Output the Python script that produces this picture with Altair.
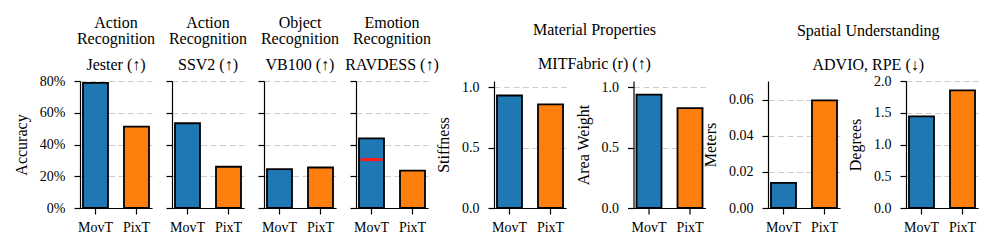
import altair as alt
import pandas as pd

FONT = "Liberation Serif"

models = ["MovT", "PixT"]
colors = ["#1f77b4", "#ff7f0e"]

# Accuracy panels
acc_tasks = [["Action", "Recognition"], ["Action", "Recognition"],
             ["Object", "Recognition"], ["Emotion", "Recognition"]]
acc_datasets = ["Jester (↑)", "SSV2 (↑)", "VB100 (↑)", "RAVDESS (↑)"]
acc_movt = [0.788, 0.534, 0.245, 0.439]
acc_pixt = [0.513, 0.260, 0.255, 0.236]
acc_ticks = [0, 0.2, 0.4, 0.6, 0.8]
acc_domain = [0, 0.8]

# red reference line drawn on the RAVDESS MovT bar
ref_model = ["MovT"]
ref_value = [0.305]

# Material properties
material_group = "Material Properties"
material_dataset = "MITFabric (r) (↑)"
material_labels = ["Stiffness", "Area Weight"]
material_movt = [0.930, 0.937]
material_pixt = [0.857, 0.825]
material_ticks = [0, 0.5, 1.0]
material_domain = [0, 1.05]

# Spatial understanding
spatial_group = "Spatial Understanding"
spatial_dataset = "ADVIO, RPE (↓)"
spatial_labels = ["Meters", "Degrees"]
spatial_movt = [0.0139, 1.444]
spatial_pixt = [0.0598, 1.852]
spatial_ticks = [[0, 0.02, 0.04, 0.06], [0, 0.5, 1.0, 1.5, 2.0]]
spatial_domain = [[0, 0.0705], [0, 2.0]]
spatial_fmt = [".2f", ".1f"]

W, H = 72, 127


def x_enc():
    return alt.X("model:N", sort=models,
                 scale=alt.Scale(paddingInner=0.39, paddingOuter=0.073),
                 axis=alt.Axis(title=None, labelAngle=0, grid=False, tickSize=6,
                               labelPadding=6))


def panel(vals, domain, ticks, fmt, ytitle=None, hide_labels=False, title=None, ref=False):
    df = pd.DataFrame({"model": models, "value": vals})
    axis_kw = dict(values=ticks, format=fmt, grid=True, gridDash=[6, 3.5],
                   gridColor="#cccccc", gridWidth=1.1, tickSize=6, labelPadding=9,
                   titlePadding=10, title=ytitle)
    if hide_labels:
        axis_kw["labelOpacity"] = 0
    y = alt.Y("value:Q", scale=alt.Scale(domain=domain, nice=False, zero=True),
              axis=alt.Axis(**axis_kw))
    bars = alt.Chart(df).mark_bar(stroke="black", strokeWidth=1.8).encode(
        x=x_enc(), y=y,
        color=alt.Color("model:N", scale=alt.Scale(domain=models, range=colors), legend=None),
    )
    ch = bars
    if ref:
        rdf = pd.DataFrame({"model": ref_model, "value": ref_value})
        line = alt.Chart(rdf).mark_tick(orient="horizontal", color="#ff1a1a", thickness=3,
                                        size=22, opacity=1).encode(x=x_enc(), y=y)
        ch = alt.layer(bars, line)
    props = dict(width=W, height=H)
    if title is not None:
        props["title"] = title
    return ch.properties(**props)


acc_panels = []
for i in range(4):
    t = alt.TitleParams(text=acc_tasks[i], subtitle=acc_datasets[i], frame="group",
                        anchor="middle", offset=1.5, subtitlePadding=10, lineHeight=16)
    acc_panels.append(panel([acc_movt[i], acc_pixt[i]], acc_domain, acc_ticks, ".0%",
                            ytitle="Accuracy" if i == 0 else None,
                            hide_labels=(i > 0), title=t, ref=(i == 3)))

g1 = alt.hconcat(*acc_panels, spacing=20, bounds="flush")

mat_panels = [panel([material_movt[i], material_pixt[i]], material_domain, material_ticks,
                    ".1f", ytitle=material_labels[i]) for i in range(2)]
g2 = alt.hconcat(*mat_panels, spacing=67.5, bounds="flush",
                 title=alt.TitleParams(text=material_group, subtitle=material_dataset,
                                       anchor="middle", dx=24, offset=8, subtitlePadding=18))

sp_panels = [panel([spatial_movt[i], spatial_pixt[i]], spatial_domain[i], spatial_ticks[i],
                   spatial_fmt[i], ytitle=spatial_labels[i]) for i in range(2)]
g3 = alt.hconcat(*sp_panels, spacing=66, bounds="flush",
                 title=alt.TitleParams(text=spatial_group, subtitle=spatial_dataset,
                                       anchor="middle", dx=28, offset=1.5, subtitlePadding=18))

chart = alt.hconcat(g1, g2, g3, spacing=-4).properties(
    padding={"left": 5, "top": 6, "right": 5, "bottom": 5}
).configure_view(stroke=None).configure_axis(
    labelFont=FONT, titleFont=FONT, labelFontSize=14, titleFontSize=16,
    titleFontWeight="normal", labelColor="black", titleColor="black",
    domainColor="black", tickColor="black", domainWidth=1.2, tickWidth=1.2,
).configure_title(
    font=FONT, fontSize=16, fontWeight="normal", color="black",
    subtitleFont=FONT, subtitleFontSize=16, subtitleColor="black",
)

chart.save("out.html", embed_options={"renderer": "svg", "actions": False})
